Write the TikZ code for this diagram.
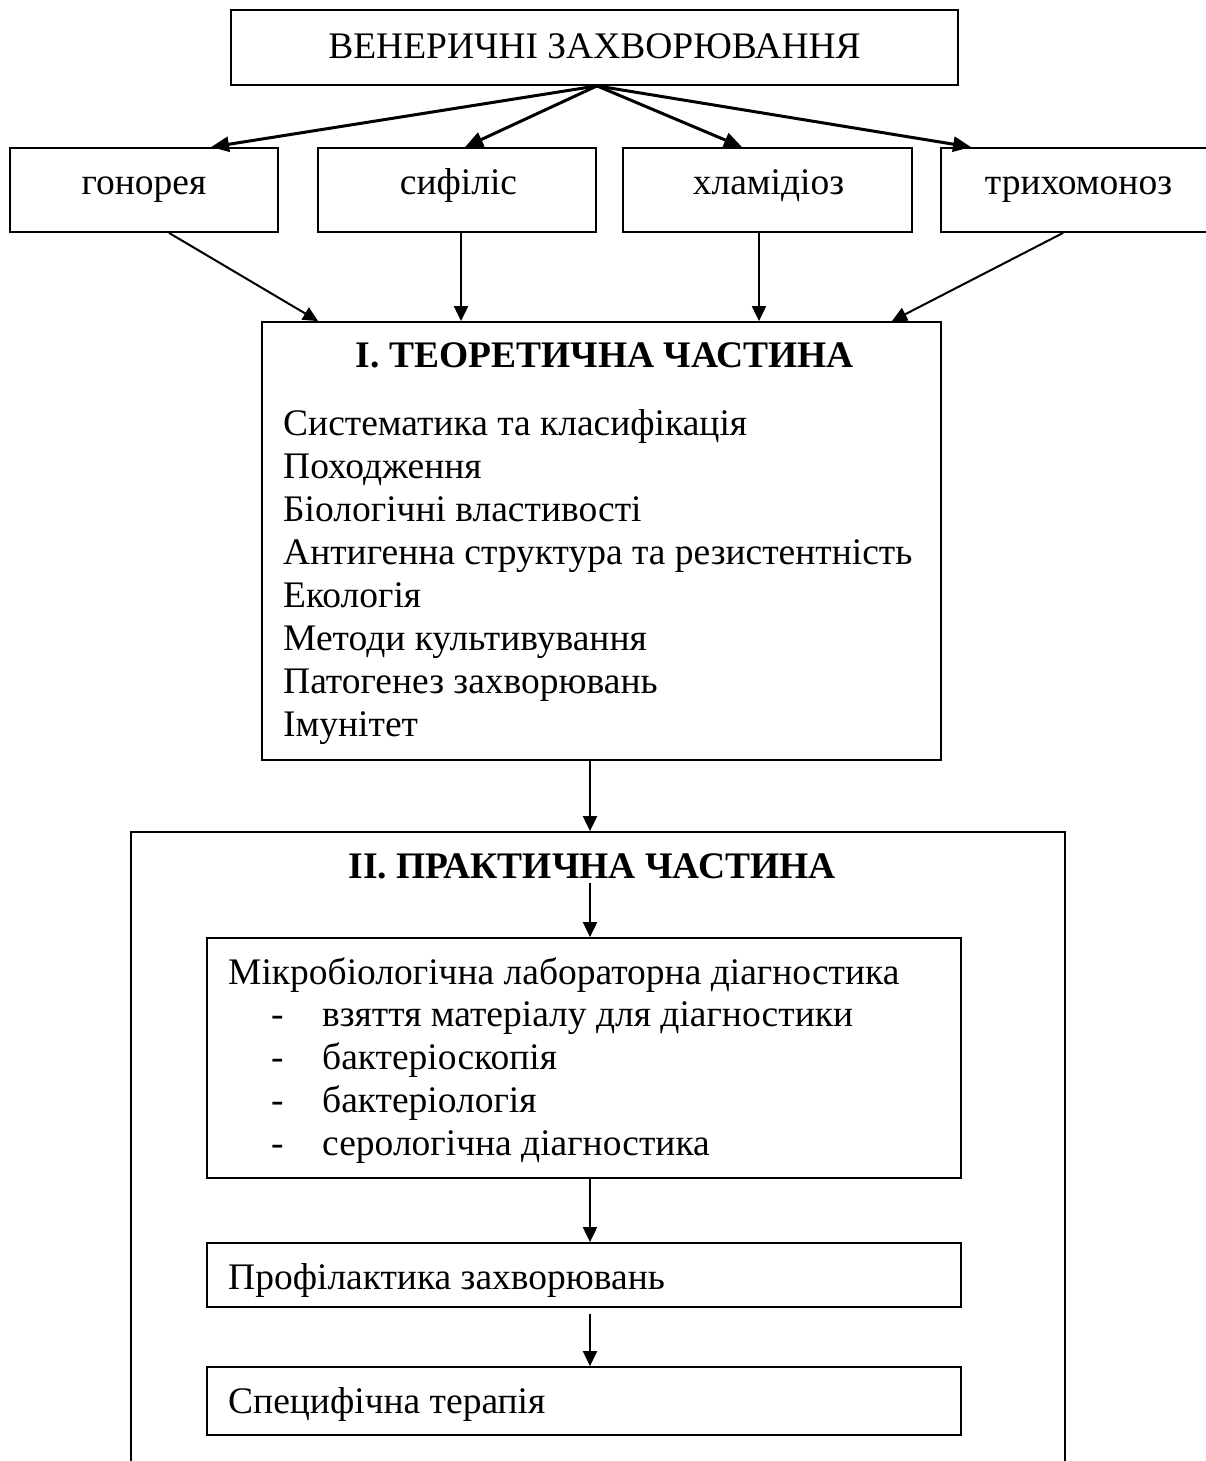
\documentclass[tikz,border=0pt]{standalone}
\usepackage{fontspec}
\setmainfont{Liberation Serif}
\usetikzlibrary{arrows.meta}

\tikzset{
  box/.style={draw, line width=1.8pt, inner sep=0pt},
  lbl/.style={anchor=base, inner sep=0pt, font=\fontsize{37.5}{43}\selectfont},
  lbll/.style={lbl, anchor=base west},
  bold/.style={font=\fontsize{37.5}{43}\selectfont\bfseries},
  arr/.style={line width=2pt, -{Triangle[length=15pt,width=14pt]}},
  arrb/.style={line width=3pt, -{Triangle[length=18pt,width=15pt]}},
}

\begin{document}
\begin{tikzpicture}[x=1pt,y=-1pt]
\useasboundingbox (0,0) rectangle (1205,1461);

% Kopf
\node[box, minimum width=727pt, minimum height=75pt] (ven) at (594.5,47.5) {};
\node[lbl] (ven-t) at (594.5,59) {ВЕНЕРИЧНІ ЗАХВОРЮВАННЯ};

% Krankheiten
\foreach \n/\cx/\w/\lx/\t in {gon/144/268/144/гонорея, sif/457/278/458.5/сифіліс,
    hla/767.5/289/768.5/хламідіоз, tri/1090.5/299/1078.5/трихомоноз} {
  \node[box, minimum width=\w pt, minimum height=84pt] (\n) at (\cx,190) {};
  \node[lbl] (\n-t) at (\lx,194) {\t};
}

% Theorie
\node[box, minimum width=679pt, minimum height=438pt] (theo) at (601.5,541) {};
\node[lbl, bold] (theo-t) at (605,367) {І. ТЕОРЕТИЧНА ЧАСТИНА};
\foreach \t [count=\i from 0] in {Систематика та класифікація, Походження,
    Біологічні властивості, Антигенна структура та резистентність, Екологія,
    Методи культивування, Патогенез захворювань, Імунітет}
  \node[lbll] (theo-\i) at (283,{435+43.1*\i}) {\t};

% Praxis
\node[box, minimum width=934pt, minimum height=700pt] (prac) at (598,1182) {};
\node[lbl, bold] (prac-t) at (592,878) {ІІ. ПРАКТИЧНА ЧАСТИНА};

\node[box, minimum width=754pt, minimum height=240pt] (micro) at (584,1058) {};
\node[lbll] (micro-t) at (228,984) {Мікробіологічна лабораторна діагностика};
\foreach \t [count=\i] in {взяття матеріалу для діагностики, бактеріоскопія,
    бактеріологія, серологічна діагностика} {
  \node[lbll] (dash-\i) at (271,{984+42.8*\i}) {-};
  \node[lbll] (micro-\i) at (322,{984+42.8*\i}) {\t};
}

\node[box, minimum width=754pt, minimum height=64pt] (prof) at (584,1275) {};
\node[lbll] (prof-t) at (228,1289) {Профілактика захворювань};

\node[box, minimum width=754pt, minimum height=68pt] (spec) at (584,1401) {};
\node[lbll] (spec-t) at (228,1413) {Специфічна терапія};

% Pfeile oben
\draw[arrb] ([xshift=2.5]ven.south) -- ([xshift=67]gon.north);
\draw[arrb] ([xshift=2.5]ven.south) -- ([xshift=8]sif.north);
\draw[arrb] ([xshift=2.5]ven.south) -- ([xshift=-25.5]hla.north);
\draw[arrb] ([xshift=2.5]ven.south) -- ([xshift=31]tri.north west);

% Pfeile zur Theorie
\draw[arr] ([xshift=25]gon.south) -- ([xshift=57]theo.north west);
\coordinate (s-out) at ([xshift=4]sif.south);
\draw[arr] (s-out) -- (s-out |- theo.north);
\coordinate (h-out) at ([xshift=-8.5]hla.south);
\draw[arr] (h-out) -- (h-out |- theo.north);
\draw[arr] ([xshift=123]tri.south west) -- ([xshift=-50]theo.north east);

% Pfeile unten
\coordinate (t-out) at ([xshift=-11.5]theo.south);
\draw[arr] (t-out) -- (t-out |- prac.north);
\coordinate (m-in) at ([xshift=6]micro.north);
\draw[arr, shorten <=4pt] (m-in |- prac-t.south) -- (m-in);
\draw[arr] (m-in |- micro.south) -- (m-in |- prof.north);
\draw[arr, shorten <=6pt] (m-in |- prof.south) -- (m-in |- spec.north);
\end{tikzpicture}
\end{document}
